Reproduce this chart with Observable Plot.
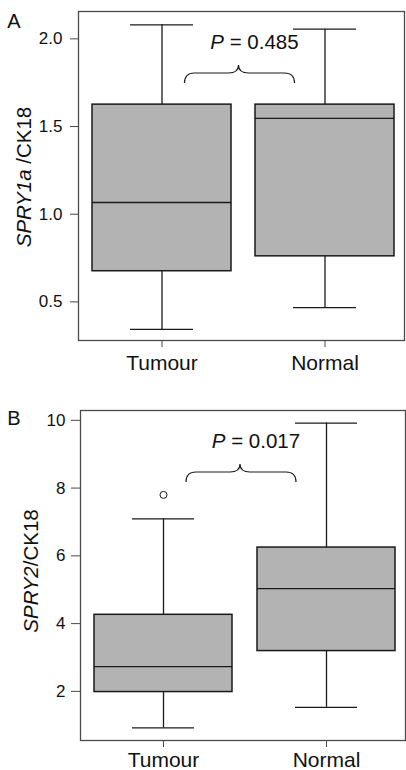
<!DOCTYPE html>
<html><head><meta charset="utf-8">
<script src="https://cdn.jsdelivr.net/npm/d3@7"></script>
<script src="https://cdn.jsdelivr.net/npm/@observablehq/plot@0.6"></script>
<style>
body{margin:0;background:#fff;}
#chart{width:406px;}
#chart svg{display:block;}
</style>
</head><body><div id="chart"></div>
<script>
const groups = ["Tumour", "Normal"];

// Panel A: SPRY1a/CK18
const aLow = [0.343, 0.468];
const aQ1 = [0.675, 0.76];
const aMedian = [1.067, 1.547];
const aQ3 = [1.625, 1.625];
const aHigh = [2.08, 2.055];
const aOutlierGroup = [];
const aOutlierValue = [];
const aTicks = [0.5, 1.0, 1.5, 2.0];
const aP = "0.485";

// Panel B: SPRY2/CK18
const bLow = [0.92, 1.53];
const bQ1 = [1.98, 3.19];
const bMedian = [2.73, 5.035];
const bQ3 = [4.26, 6.245];
const bHigh = [7.09, 9.92];
const bOutlierGroup = ["Tumour"];
const bOutlierValue = [7.8];
const bTicks = [2, 4, 6, 8, 10];
const bP = "0.017";

const FONT = "'Liberation Sans', Arial, Helvetica, sans-serif";
const INK = "#1a1a1a";
const FRAME = "#4a4a4a";

function stats(low, q1, med, q3, high) {
  return groups.map((g, i) => ({group: g, low: low[i], q1: q1[i], median: med[i], q3: q3[i], high: high[i]}));
}

function annotation(cfg) {
  return (index, scales, values, dim) => {
    const x = scales.x;
    const bw = x.bandwidth();
    const c1 = x(groups[0]) + bw / 2, c2 = x(groups[1]) + bw / 2;
    const top = dim.marginTop;
    const g = d3.create("svg:g").attr("font-family", FONT).attr("fill", "#111");
    // brace
    const x0 = c1 + 23, x1 = c2 - 30, tip = c1 + 77;
    const yE = top + 72, yH = top + 62, yT = top + 54, r = 10;
    const path = `M${x0},${yE} Q${x0},${yH} ${x0 + r},${yH} L${tip - r},${yH} Q${tip},${yH} ${tip},${yT} Q${tip},${yH} ${tip + r},${yH} L${x1 - r},${yH} Q${x1},${yH} ${x1},${yE}`;
    g.append("path").attr("d", path).attr("fill", "none").attr("stroke", INK).attr("stroke-width", 1.2);
    // P value
    const t = g.append("text").attr("x", c1 + 93).attr("y", top + 38).attr("text-anchor", "middle").attr("font-size", 20.5);
    t.append("tspan").attr("font-style", "italic").text("P");
    t.append("tspan").text(" = " + cfg.p);
    // y label
    const yl = g.append("text")
      .attr("transform", `translate(${cfg.labelX},${cfg.labelY}) rotate(-90)`)
      .attr("text-anchor", "middle").attr("font-size", 20.5);
    yl.append("tspan").attr("font-style", "italic").text(cfg.italic);
    yl.append("tspan").text(cfg.rest);
    // panel letter
    g.append("text").attr("x", 14).attr("y", cfg.letterY).attr("font-size", 20).text(cfg.letter);
    return g.node();
  };
}

function panel(cfg) {
  const data = stats(...cfg.s);
  const outliers = cfg.outG.map((g, i) => ({group: g, value: cfg.outV[i]}));
  return Plot.plot({
    width: 406,
    height: 385,
    marginLeft: cfg.ml, marginRight: cfg.mr, marginTop: cfg.mt, marginBottom: cfg.mb,
    style: {fontFamily: FONT, background: "#fff", color: "#111"},
    x: {type: "band", domain: groups, paddingInner: cfg.pi, paddingOuter: 0.067, align: 0.59, label: null},
    y: {domain: cfg.domain, label: null},
    marks: [
      Plot.ruleX(data, {x: "group", y1: "q3", y2: "high", stroke: INK, strokeWidth: 1.3}),
      Plot.ruleX(data, {x: "group", y1: "low", y2: "q1", stroke: INK, strokeWidth: 1.3}),
      Plot.tickY(data, {x: "group", y: "high", stroke: INK, strokeWidth: 1.3, insetLeft: 38, insetRight: 38}),
      Plot.tickY(data, {x: "group", y: "low", stroke: INK, strokeWidth: 1.3, insetLeft: 38, insetRight: 38}),
      Plot.barY(data, {x: "group", y1: "q1", y2: "q3", fill: "#b3b3b3", stroke: INK, strokeWidth: 1.5}),
      Plot.tickY(data, {x: "group", y: "median", stroke: INK, strokeWidth: 1.3}),
      Plot.dot(outliers, {x: "group", y: "value", r: 3.5, fill: "#fff", stroke: INK, strokeWidth: 1}),
      Plot.frame({stroke: FRAME, strokeWidth: 1.3}),
      Plot.axisY({ticks: cfg.ticks, tickFormat: cfg.fmt, tickSize: cfg.yts, tickPadding: cfg.ytp, fontSize: 17, stroke: FRAME, label: null}),
      Plot.axisX({tickSize: 7, tickPadding: cfg.xtp, fontSize: 21, stroke: FRAME, label: null}),
      annotation(cfg)
    ]
  });
}

const root = document.getElementById("chart");
root.appendChild(panel({
  s: [aLow, aQ1, aMedian, aQ3, aHigh], outG: aOutlierGroup, outV: aOutlierValue,
  domain: [0.28, 2.156], ticks: aTicks, fmt: d3.format(".1f"),
  ml: 78, mr: 2, mt: 11, mb: 45, pi: 0.146,
  yts: 8, ytp: 8, xtp: 8,
  p: aP, italic: "SPRY1a", rest: " /CK18", labelX: 31, labelY: 177, letter: "A", letterY: 28
}));
root.appendChild(panel({
  s: [bLow, bQ1, bMedian, bQ3, bHigh], outG: bOutlierGroup, outV: bOutlierValue,
  domain: [0.55, 10.29], ticks: bTicks, fmt: d3.format("d"),
  ml: 80, mr: 1, mt: 25, mb: 30, pi: 0.152,
  yts: 9, ytp: 6, xtp: 5,
  p: bP, italic: "SPRY2", rest: "/CK18", labelX: 38, labelY: 186, letter: "B", letterY: 40
}));
</script>
</body></html>
